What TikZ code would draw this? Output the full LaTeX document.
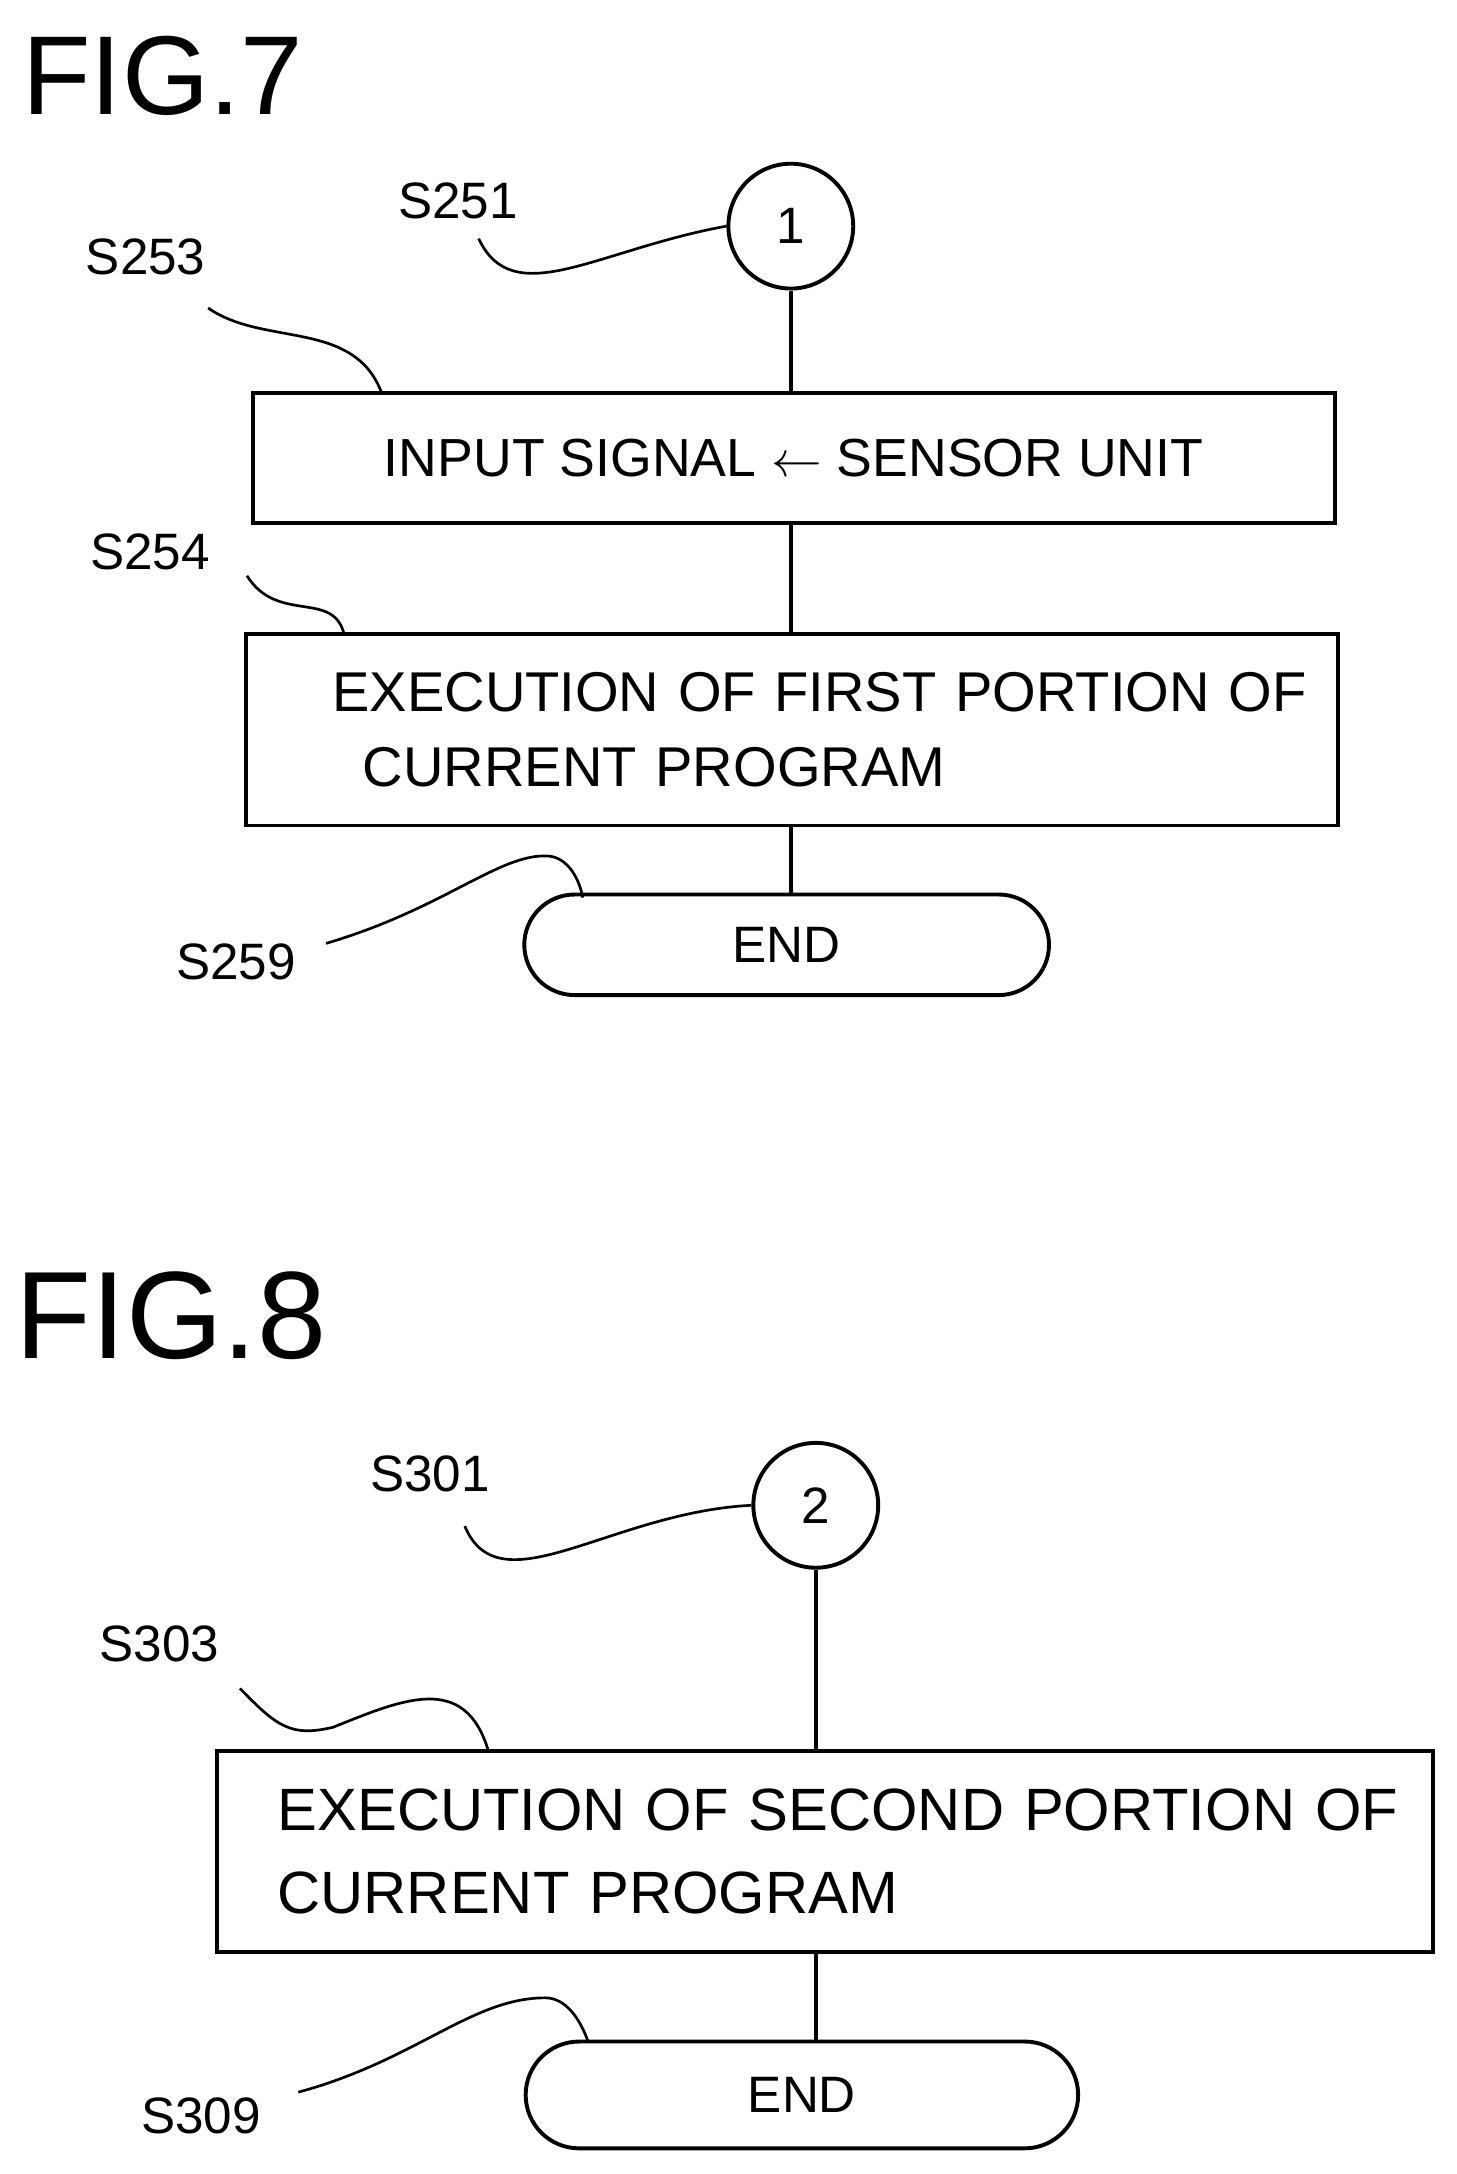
\documentclass[tikz,border=0pt]{standalone}
\usepackage{fontspec}
\setmainfont{Liberation Sans}
\usetikzlibrary{positioning, shapes.misc}
\tikzset{
  stepbox/.style={draw, line width=1.6pt, font=\fontsize{23}{31}\selectfont, align=left, inner xsep=0.3cm},
  connector/.style={draw, circle, line width=1.6pt, minimum size=1.8cm, font=\fontsize{21}{24}\selectfont},
  terminal/.style={draw, rounded rectangle, line width=1.6pt, minimum width=7.8cm, minimum height=1.45cm, font=\fontsize{21}{24}\selectfont},
  steplabel/.style={font=\fontsize{21}{24}\selectfont},
  figlabel/.style={font=\fontsize{46}{50}\selectfont, anchor=west},
  flow/.style={line width=1.6pt},
  leader/.style={line width=1.1pt}
}
\begin{document}
\begin{tikzpicture}[x=0.02cm, y=-0.02cm]
\useasboundingbox (0,0) rectangle (1050,1567);
% FIG.7
\node[figlabel] (fig7) at (10,55) {FIG.7};
\node[connector] (c1) at (570,163) {1};
\node[stepbox, font=\fontsize{22}{26}\selectfont, minimum width=15.6cm, minimum height=1.88cm, align=center] (b1) at (572,330) {INPUT SIGNAL $\leftarrow$ SENSOR UNIT};
\node[stepbox, text width=15.14cm, minimum height=2.76cm] (b2) at (571,526) {\hspace*{0.94cm}EXECUTION OF FIRST PORTION OF\\\hspace*{1.38cm}CURRENT PROGRAM};
\node[terminal] (e1) at (567,681) {END};
\draw[flow] (c1) -- (c1 |- b1.north);
\draw[flow] (b1.south -| c1) -- (b2.north -| c1);
\draw[flow] (b2.south -| c1) -- (e1.north -| c1);
\node[steplabel] (s251) at (330,145) {S251};
\node[steplabel] (s253) at (105,185) {S253};
\node[steplabel] (s254) at (108,398) {S254};
\node[steplabel] (s259) at (170,693) {S259};
\draw[leader] (345,172) .. controls (370,225) and (430,180) .. (c1.west);
\draw[leader] (150,222) .. controls (190,250) and (255,230) .. (275,283);
\draw[leader] (178,415) .. controls (200,450) and (240,425) .. (248,457);
\draw[leader] (235,680) .. controls (320,655) and (360,615) .. (395,617) .. controls (410,618) and (418,635) .. (420,647);

% FIG.8
\node[figlabel, font=\fontsize{51}{55}\selectfont] (fig8) at (5,948) {FIG.8};
\node[connector] (c2) at (588,1085) {2};
\node[stepbox, font=\fontsize{24.5}{34}\selectfont, text width=16.94cm, minimum height=2.9cm] (b3) at (594.5,1334.5) {\hspace*{0.58cm}EXECUTION OF SECOND PORTION OF\\\hspace*{0.58cm}CURRENT PROGRAM};
\node[terminal, minimum width=8.2cm, minimum height=1.54cm] (e2) at (578,1510) {END};
\draw[flow] (c2) -- (c2 |- b3.north);
\draw[flow] (b3.south -| c2) -- (e2.north -| c2);
\node[steplabel] (s301) at (310,1062) {S301};
\node[steplabel] (s303) at (115,1185) {S303};
\node[steplabel] (s309) at (145,1525) {S309};
\draw[leader] (335,1100) .. controls (360,1160) and (440,1090) .. (c2.west);
\draw[leader] (173,1217) .. controls (200,1245) and (210,1252) .. (240,1245) .. controls (290,1225) and (335,1205) .. (352,1262);
\draw[leader] (215,1508) .. controls (300,1485) and (340,1440) .. (393,1440) .. controls (410,1440) and (420,1460) .. (424,1472);
\end{tikzpicture}
\end{document}
